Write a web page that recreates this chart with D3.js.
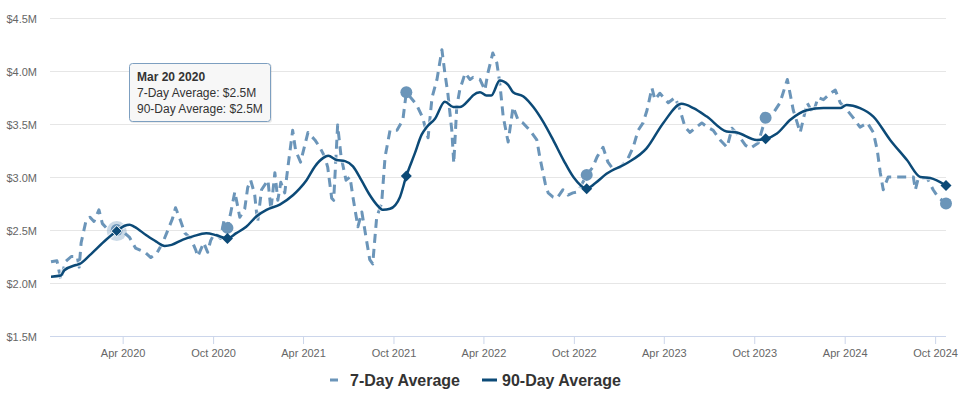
<!DOCTYPE html>
<html>
<head>
<meta charset="utf-8">
<script src="https://cdn.jsdelivr.net/npm/d3@7"></script>
<style>
  body { margin: 0; background: #fff; }
  svg { font-family: "Liberation Sans", Arial, sans-serif; }
</style>
</head>
<body>
<div class="canvas"></div>
<script>
// 90-day average (in $M)
const dates90 = ['2019-11-08','2019-11-28','2019-12-05','2019-12-29','2020-01-05','2020-01-25','2020-02-28','2020-03-20',
  '2020-04-05','2020-04-15','2020-04-25','2020-05-19','2020-06-08','2020-06-25','2020-07-09','2020-08-01','2020-08-21',
  '2020-09-17','2020-10-08','2020-10-30','2020-11-17','2020-12-07','2020-12-28','2021-01-17','2021-02-13','2021-03-12',
  '2021-03-25','2021-04-08','2021-04-25','2021-05-12','2021-05-22','2021-06-08','2021-06-25','2021-07-11','2021-07-28',
  '2021-08-14','2021-08-28','2021-09-10','2021-09-24','2021-10-14','2021-10-27','2021-11-13','2021-11-27','2021-12-07',
  '2021-12-24','2022-01-13','2022-01-30','2022-02-12','2022-03-05','2022-03-11','2022-03-25','2022-04-07','2022-04-17',
  '2022-05-04','2022-05-21','2022-05-31','2022-06-21','2022-07-11','2022-07-31','2022-08-20','2022-09-10','2022-09-30',
  '2022-10-27','2022-11-13','2022-12-06','2023-01-16','2023-02-25','2023-03-31','2023-05-07','2023-05-31','2023-06-27',
  '2023-08-06','2023-08-27','2023-10-06','2023-10-24','2023-11-16','2023-12-13','2024-01-15','2024-02-18','2024-03-23',
  '2024-04-05','2024-05-02','2024-05-29','2024-07-02','2024-08-05','2024-09-01','2024-09-21','2024-10-23'];
const avg90 = [2.06,2.07,2.12,2.17,2.18,2.26,2.41,2.49,
  2.54,2.55,2.53,2.45,2.39,2.35,2.36,2.41,2.44,
  2.47,2.45,2.42,2.47,2.53,2.63,2.69,2.74,2.83,
  2.89,2.97,3.10,3.18,3.20,3.16,3.15,3.10,2.97,
  2.83,2.74,2.69,2.70,2.81,3.01,3.22,3.40,3.47,
  3.55,3.71,3.66,3.66,3.74,3.77,3.80,3.77,3.77,
  3.91,3.87,3.80,3.76,3.66,3.52,3.35,3.16,3.00,
  2.89,2.94,3.03,3.13,3.27,3.51,3.69,3.65,3.57,
  3.43,3.42,3.35,3.36,3.41,3.54,3.63,3.65,3.65,
  3.68,3.65,3.57,3.35,3.16,3.00,2.99,2.92];

// 7-day average (in $M)
const dates7 = ['2019-11-08','2019-11-20','2019-11-28','2019-12-07','2019-12-19','2019-12-31','2020-01-04','2020-01-08',
  '2020-01-18','2020-01-26','2020-02-03','2020-02-13','2020-02-20','2020-03-01','2020-03-11','2020-03-20','2020-04-03',
  '2020-04-15','2020-04-27','2020-05-16','2020-05-28','2020-06-09','2020-06-21','2020-06-29','2020-07-11','2020-07-17',
  '2020-07-27','2020-08-05','2020-08-17','2020-08-27','2020-08-31','2020-09-12','2020-09-20','2020-09-26','2020-10-04',
  '2020-10-16','2020-10-23','2020-10-30','2020-11-06','2020-11-14','2020-11-24','2020-12-04','2020-12-10','2020-12-16',
  '2020-12-24','2020-12-30','2021-01-07','2021-01-20','2021-01-26','2021-02-03','2021-02-09','2021-02-15','2021-02-23',
  '2021-03-01','2021-03-11','2021-03-17','2021-03-27','2021-04-11','2021-04-25','2021-05-05','2021-05-15','2021-05-21',
  '2021-05-29','2021-06-02','2021-06-10','2021-06-17','2021-06-27','2021-07-05','2021-07-11','2021-07-21','2021-07-29',
  '2021-08-04','2021-08-14','2021-08-20','2021-08-28','2021-09-07','2021-09-14','2021-09-24','2021-10-08','2021-10-20',
  '2021-10-27','2021-11-17','2021-11-29','2021-12-10','2021-12-18','2021-12-28','2022-01-07','2022-01-13','2022-01-19',
  '2022-01-27','2022-01-31','2022-02-06','2022-02-12','2022-02-23','2022-03-05','2022-03-11','2022-03-25','2022-04-04',
  '2022-04-10','2022-04-20','2022-04-28','2022-05-04','2022-05-11','2022-05-21','2022-05-31','2022-06-10','2022-06-20',
  '2022-07-04','2022-07-18','2022-07-24','2022-08-04','2022-08-10','2022-08-20','2022-08-28','2022-09-09','2022-09-19',
  '2022-09-29','2022-10-09','2022-10-27','2022-11-08','2022-11-17','2022-11-29','2022-12-09','2022-12-17','2023-01-02',
  '2023-01-17','2023-01-29','2023-02-08','2023-02-18','2023-02-26','2023-03-08','2023-03-14','2023-03-24','2023-04-10',
  '2023-04-24','2023-05-04','2023-05-14','2023-05-24','2023-06-03','2023-06-17','2023-06-28','2023-07-10','2023-07-24',
  '2023-08-07','2023-08-17','2023-08-29','2023-09-13','2023-09-23','2023-10-09','2023-10-24','2023-11-08','2023-11-22',
  '2023-12-07','2023-12-19','2024-01-02','2024-01-16','2024-01-28','2024-02-07','2024-02-18','2024-03-03','2024-03-13',
  '2024-03-23','2024-04-06','2024-04-18','2024-05-02','2024-05-17','2024-05-29','2024-06-06','2024-06-12','2024-06-18',
  '2024-06-28','2024-07-22','2024-08-18','2024-08-22','2024-08-28','2024-09-15','2024-09-27','2024-10-07','2024-10-23'];
const avg7 = [2.20,2.21,2.03,2.20,2.25,2.25,2.15,2.38,
  2.59,2.62,2.58,2.69,2.56,2.51,2.49,2.50,2.48,
  2.43,2.33,2.29,2.24,2.28,2.38,2.47,2.61,2.71,
  2.59,2.47,2.42,2.31,2.25,2.38,2.29,2.40,2.47,
  2.42,2.59,2.52,2.67,2.86,2.62,2.70,2.90,2.97,
  2.84,2.57,2.88,2.97,2.69,3.04,2.78,2.95,2.85,
  3.08,3.44,3.25,3.14,3.42,3.35,3.28,3.19,3.09,
  2.80,2.78,3.49,3.19,2.97,3.00,2.81,2.53,2.67,
  2.50,2.22,2.18,2.62,2.75,3.19,3.44,3.44,3.54,
  3.80,3.68,3.56,3.37,3.75,3.92,4.20,3.98,3.79,
  3.44,3.13,3.66,3.82,3.98,3.92,3.94,3.92,3.82,
  3.98,4.17,4.08,3.89,3.57,3.33,3.66,3.54,3.51,
  3.44,3.35,3.19,2.94,2.85,2.81,2.80,2.88,2.83,
  2.85,2.86,3.02,3.09,3.19,3.28,3.14,3.09,3.09,
  3.16,3.28,3.44,3.51,3.63,3.84,3.73,3.79,3.70,
  3.75,3.63,3.47,3.42,3.46,3.51,3.47,3.44,3.35,
  3.28,3.46,3.40,3.30,3.27,3.32,3.56,3.60,3.70,
  3.92,3.63,3.42,3.70,3.60,3.75,3.73,3.79,3.82,
  3.70,3.63,3.56,3.47,3.51,3.42,3.25,3.04,2.88,
  3.00,3.00,3.00,2.88,2.99,2.99,2.88,2.81,2.75];

// dates that carry a marker on both series
const markerDates = ['2020-03-20','2020-10-30','2021-10-27','2022-10-27','2023-10-24','2024-10-23'];
const hoverDate = '2020-03-20';

const yTicks = [1.5, 2.0, 2.5, 3.0, 3.5, 4.0, 4.5];
const xTickDates = ['2020-04-01','2020-10-01','2021-04-01','2021-10-01','2022-04-01','2022-10-01',
  '2023-04-01','2023-10-01','2024-04-01','2024-10-01'];
const seriesNames = ['7-Day Average', '90-Day Average'];

const color7 = '#6b95b9';
const color90 = '#0c4a77';

const width = 964, height = 399;
const plot = { left: 50, right: 946, top: 18, bottom: 336 };

const parse = d3.timeParse('%Y-%m-%d');
const fmtMoney = v => d3.format('$.1f')(v) + 'M';

const series7 = dates7.map((d, i) => ({ date: parse(d), value: avg7[i] }));
const series90 = dates90.map((d, i) => ({ date: parse(d), value: avg90[i] }));

const svg = d3.select('.canvas')
    .append('svg')
    .attr('width', width)
    .attr('height', height);

// scales
const x = d3.scaleTime()
    .domain([parse(dates90[0]), parse(dates90[dates90.length - 1])])
    .range([plot.left + 1, plot.right]);

const y = d3.scaleLinear()
    .domain([1.5, 4.5])
    .range([plot.bottom, plot.top]);

// grid lines + y labels
const yAxis = d3.axisLeft(y)
    .tickValues(yTicks)
    .tickSize(-(plot.right - plot.left))
    .tickPadding(13)
    .tickFormat(fmtMoney);

const yAxisGroup = svg.append('g')
    .attr('transform', `translate(${plot.left}, 0)`)
    .call(yAxis);
yAxisGroup.select('.domain').remove();
yAxisGroup.selectAll('line').attr('stroke', '#e6e6e6');
yAxisGroup.selectAll('text')
    .attr('font-size', 11)
    .attr('fill', '#666')
    .attr('dy', '0.45em')
    .style('font-family', '"Liberation Sans", Arial, sans-serif');

// x axis
const xAxis = d3.axisBottom(x)
    .tickValues(xTickDates.map(parse))
    .tickSize(8)
    .tickSizeOuter(0)
    .tickPadding(5)
    .tickFormat(d3.timeFormat('%b %Y'));

const xAxisGroup = svg.append('g')
    .attr('transform', `translate(0, ${plot.bottom})`)
    .call(xAxis);
xAxisGroup.select('.domain')
    .attr('d', `M${plot.left},0.5H${plot.right}`)
    .attr('stroke', '#ccd6eb');
xAxisGroup.selectAll('line').attr('stroke', '#ccd6eb');
xAxisGroup.selectAll('text')
    .attr('font-size', 11)
    .attr('fill', '#666')
    .style('font-family', '"Liberation Sans", Arial, sans-serif');

// lines
const line7 = d3.line()
    .x(d => x(d.date))
    .y(d => y(d.value));

const line90 = d3.line()
    .x(d => x(d.date))
    .y(d => y(d.value))
    .curve(d3.curveMonotoneX);

// hover halo
const hoverIdx = dates90.indexOf(hoverDate);
svg.append('circle')
    .attr('cx', x(parse(hoverDate)))
    .attr('cy', y(avg90[hoverIdx]))
    .attr('r', 10)
    .attr('fill', color7)
    .attr('opacity', 0.35);

svg.append('path')
    .datum(series7)
    .attr('d', line7)
    .attr('fill', 'none')
    .attr('stroke', color7)
    .attr('stroke-width', 3)
    .attr('stroke-dasharray', '9,6')
    .attr('stroke-linejoin', 'round');

// 7-day markers
svg.selectAll('circle.m7')
    .data(markerDates.map(d => series7.find(p => +p.date === +parse(d))))
    .enter()
    .append('circle')
    .attr('class', 'm7')
    .attr('cx', d => x(d.date))
    .attr('cy', d => y(d.value))
    .attr('r', 6)
    .attr('fill', color7);

// soft white halo under the 90 day line
svg.append('path')
    .datum(series90)
    .attr('d', line90)
    .attr('fill', 'none')
    .attr('stroke', '#fff')
    .attr('stroke-opacity', 0.6)
    .attr('stroke-width', 5);

svg.append('path')
    .datum(series90)
    .attr('d', line90)
    .attr('fill', 'none')
    .attr('stroke', color90)
    .attr('stroke-width', 2.5)
    .attr('stroke-linejoin', 'round');

// 90-day markers (diamonds)
const diamond = r => `M0,${-r}L${r},0L0,${r}L${-r},0Z`;
svg.selectAll('path.m90')
    .data(markerDates.map(d => series90.find(p => +p.date === +parse(d))))
    .enter()
    .append('path')
    .attr('class', 'm90')
    .attr('d', diamond(5.5))
    .attr('transform', d => `translate(${x(d.date)}, ${y(d.value)})`)
    .attr('fill', color90)
    .attr('stroke', d => +d.date === +parse(hoverDate) ? '#fff' : 'none')
    .attr('stroke-width', 1);

// tooltip
const hover7 = avg7[dates7.indexOf(hoverDate)];
const hover90 = avg90[hoverIdx];
const tip = svg.append('g').attr('transform', 'translate(129, 63)');
tip.append('rect')
    .attr('x', 1).attr('y', 1)
    .attr('width', 142).attr('height', 59)
    .attr('rx', 3)
    .attr('fill', '#000')
    .attr('opacity', 0.08);
tip.append('rect')
    .attr('x', 0.5).attr('y', 0.5)
    .attr('width', 141).attr('height', 58)
    .attr('rx', 3)
    .attr('fill', '#f7f7f7')
    .attr('stroke', '#7d9fc0')
    .attr('stroke-width', 1);
tip.append('text')
    .attr('x', 8).attr('y', 18)
    .attr('font-size', 12)
    .attr('font-weight', 'bold')
    .attr('fill', '#333')
    .text(d3.timeFormat('%b %d %Y')(parse(hoverDate)));
tip.append('text')
    .attr('x', 8).attr('y', 34)
    .attr('font-size', 12)
    .attr('fill', '#333')
    .text(`${seriesNames[0]}: ${fmtMoney(hover7)}`);
tip.append('text')
    .attr('x', 8).attr('y', 50)
    .attr('font-size', 12)
    .attr('fill', '#333')
    .text(`${seriesNames[1]}: ${fmtMoney(hover90)}`);

// legend
const legend = svg.append('g').attr('transform', 'translate(330, 380)');
const items = [
    { name: seriesNames[0], color: color7, x1: 0, x2: 8, textX: 20 },
    { name: seriesNames[1], color: color90, x1: 152, x2: 167, textX: 172 }
];
items.forEach(it => {
    legend.append('line')
        .attr('x1', it.x1).attr('x2', it.x2)
        .attr('y1', 0).attr('y2', 0)
        .attr('stroke', it.color)
        .attr('stroke-width', 3);
    legend.append('text')
        .attr('x', it.textX).attr('y', 5.5)
        .attr('font-size', 16)
        .attr('font-weight', 'bold')
        .attr('fill', '#333')
        .text(it.name);
});
</script>
</body>
</html>
